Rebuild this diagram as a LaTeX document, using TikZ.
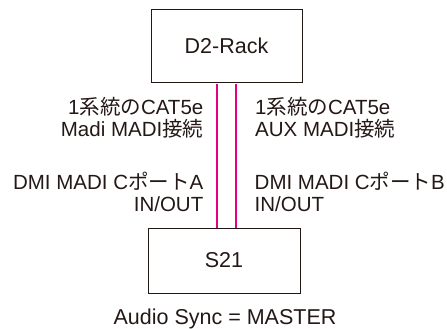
\documentclass[tikz,border=0pt]{standalone}
\usepackage{fontspec}
\setmainfont{Liberation Sans}
\newfontfamily\jp{Noto Sans CJK JP}
\definecolor{txt}{HTML}{231815}
\definecolor{cable}{HTML}{E4007F}
\begin{document}
\begin{tikzpicture}[x=1pt,y=1pt,
  every node/.style={font=\fontsize{20.5}{22}\selectfont, text=txt},
  big/.style={font=\fontsize{21.5}{23}\selectfont},
  box/.style={draw=txt, line width=0.9pt, inner sep=0pt, big},
  lbl/.style={inner sep=0pt},
  cab/.style={draw=cable, line width=2pt}]
\useasboundingbox (0,0) rectangle (447,-329);
\node[box, minimum width=151, minimum height=73] (d2) at (226.5,-45.5) {D2-Rack};
\node[box, minimum width=152, minimum height=65] (s21) at (224,-260.5) {S21};
\draw[cab] ([xshift=-9.5pt,yshift=-1.5pt]d2.south) -- ([xshift=-7pt]s21.north);
\draw[cab] ([xshift=9.5pt,yshift=-1.5pt]d2.south) -- ([xshift=12pt]s21.north);
\node[lbl, anchor=base east] (la1) at (203.5,-114.3) {1{\jp 系統の}CAT5e};
\node[lbl, anchor=base east] (la2) at (203.5,-136.7) {Madi MADI{\jp 接続}};
\node[lbl, anchor=base west] (ra1) at (255,-114.3) {1{\jp 系統の}CAT5e};
\node[lbl, anchor=base west] (ra2) at (255,-136.7) {AUX MADI{\jp 接続}};
\node[lbl, anchor=base east] (lb1) at (203.5,-189.3) {DMI MADI C{\jp ポート}A};
\node[lbl, anchor=base east] (lb2) at (203.5,-211.7) {IN/OUT};
\node[lbl, anchor=base west] (rb1) at (254.5,-189.3) {DMI MADI C{\jp ポート}B};
\node[lbl, anchor=base west] (rb2) at (254.5,-211.7) {IN/OUT};
\node[lbl, big, anchor=base] (sync) at (225,-324.3) {Audio Sync = MASTER};
\end{tikzpicture}
\end{document}
